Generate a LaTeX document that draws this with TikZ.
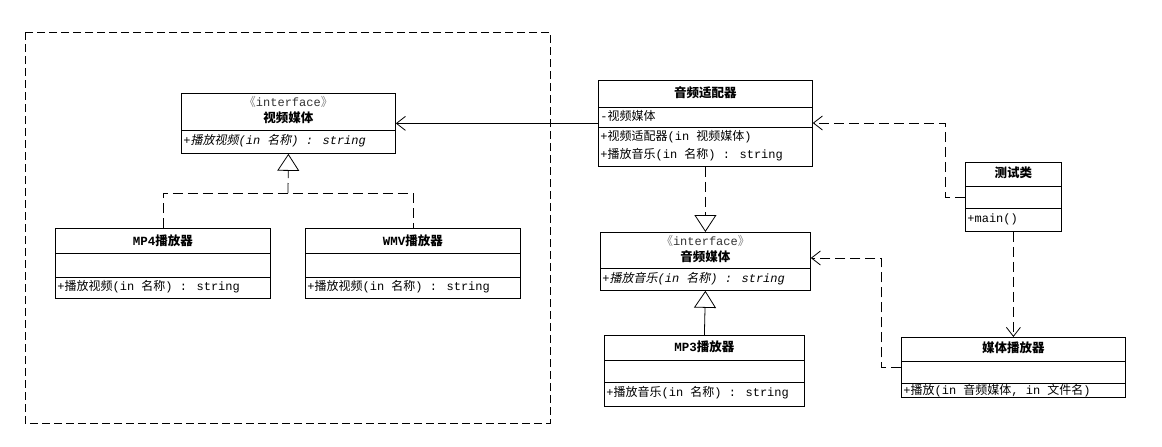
\documentclass[tikz,border=0pt]{standalone}
\usepackage{fontspec}
\setmainfont{Liberation Mono}
\newfontfamily\cjk[AutoFakeSlant=0.2]{Noto Sans CJK SC}
\newcommand\zh[1]{{\cjk #1}}
\usetikzlibrary{arrows.meta}

\begin{document}
\begin{tikzpicture}[
    x=1pt, y=-1pt, line width=0.8pt,
    font=\fontsize{12}{14}\selectfont,
    cls/.style={draw, anchor=north west, inner sep=0pt},
    ttl/.style={font=\fontsize{12.5}{14}\selectfont\bfseries, inner sep=0pt},
    stereo/.style={inner sep=0pt, text=black!80},
    ops/.style={anchor=west, inner sep=0pt},
    assoc/.style={-{Straight Barb[length=9pt,width=14pt]}},
    dep/.style={dash pattern=on 10pt off 5pt, -{Straight Barb[length=9pt,width=14pt]}},
    realize/.style={dash pattern=on 10pt off 5pt, -{Triangle[length=17pt,width=22pt,fill=white]}},
    inherit/.style={-{Triangle[length=17pt,width=22pt,fill=white]}},
    frame/.style={draw, dash pattern=on 8pt off 4pt}
]
\useasboundingbox (0,0) rectangle (1162,447);

% package boundary
\draw[frame] (25,32) rectangle (550,423);

% interface: video media
\node[cls, minimum width=214pt, minimum height=60pt] (vm) at (181,93) {};
\draw ([yshift=-37pt]vm.north west) -- ([yshift=-37pt]vm.north east);
\node[stereo] (vmst) at ([yshift=-9pt]vm.north) {\zh{\color{gray}《}interface\zh{\color{gray}》}};
\node[ttl] (vmt) at ([yshift=-25pt]vm.north) {\zh{视频媒体}};
\node[ops] (vmo) at ([xshift=2pt,yshift=-48pt]vm.north west) {\itshape +\zh{播放视频}(in \zh{名称}) : string};

% MP4 player
\node[cls, minimum width=215pt, minimum height=70pt] (mp4) at (55,228) {};
\draw ([yshift=-25pt]mp4.north west) -- ([yshift=-25pt]mp4.north east);
\draw ([yshift=-49pt]mp4.north west) -- ([yshift=-49pt]mp4.north east);
\node[ttl] (mp4t) at ([yshift=-13pt]mp4.north) {MP4\zh{播放器}};
\node[ops] (mp4o) at ([xshift=2pt,yshift=-59pt]mp4.north west) {+\zh{播放视频}(in \zh{名称}) : string};

% WMV player
\node[cls, minimum width=215pt, minimum height=70pt] (wmv) at (305,228) {};
\draw ([yshift=-25pt]wmv.north west) -- ([yshift=-25pt]wmv.north east);
\draw ([yshift=-49pt]wmv.north west) -- ([yshift=-49pt]wmv.north east);
\node[ttl] (wmvt) at ([yshift=-13pt]wmv.north) {WMV\zh{播放器}};
\node[ops] (wmvo) at ([xshift=2pt,yshift=-59pt]wmv.north west) {+\zh{播放视频}(in \zh{名称}) : string};

% audio adapter
\node[cls, minimum width=214pt, minimum height=86pt] (ad) at (598,80) {};
\draw ([yshift=-27pt]ad.north west) -- ([yshift=-27pt]ad.north east);
\draw ([yshift=-47pt]ad.north west) -- ([yshift=-47pt]ad.north east);
\node[ttl] (adt) at ([yshift=-13pt]ad.north) {\zh{音频适配器}};
\node[ops] (ada) at ([xshift=2pt,yshift=-36pt]ad.north west) {-\zh{视频媒体}};
\node[ops] (ado1) at ([xshift=2pt,yshift=-57pt]ad.north west) {+\zh{视频适配器}(in \zh{视频媒体})};
\node[ops] (ado2) at ([xshift=2pt,yshift=-75pt]ad.north west) {+\zh{播放音乐}(in \zh{名称}) : string};

% interface: audio media
\node[cls, minimum width=210pt, minimum height=58pt] (am) at (600,232) {};
\draw ([yshift=-36pt]am.north west) -- ([yshift=-36pt]am.north east);
\node[stereo] (amst) at ([yshift=-9pt]am.north) {\zh{\color{gray}《}interface\zh{\color{gray}》}};
\node[ttl] (amt) at ([yshift=-25pt]am.north) {\zh{音频媒体}};
\node[ops] (amo) at ([xshift=2pt,yshift=-47pt]am.north west) {\itshape +\zh{播放音乐}(in \zh{名称}) : string};

% MP3 player
\node[cls, minimum width=200pt, minimum height=71pt] (mp3) at (604,335) {};
\draw ([yshift=-25pt]mp3.north west) -- ([yshift=-25pt]mp3.north east);
\draw ([yshift=-47pt]mp3.north west) -- ([yshift=-47pt]mp3.north east);
\node[ttl] (mp3t) at ([yshift=-12pt]mp3.north) {MP3\zh{播放器}};
\node[ops] (mp3o) at ([xshift=2pt,yshift=-58pt]mp3.north west) {+\zh{播放音乐}(in \zh{名称}) : string};

% test class
\node[cls, minimum width=96pt, minimum height=69pt] (test) at (965,162) {};
\draw ([yshift=-24pt]test.north west) -- ([yshift=-24pt]test.north east);
\draw ([yshift=-46pt]test.north west) -- ([yshift=-46pt]test.north east);
\node[ttl] (testt) at ([yshift=-11pt]test.north) {\zh{测试类}};
\node[ops] (testo) at ([xshift=2pt,yshift=-57pt]test.north west) {+main()};

% media player
\node[cls, minimum width=224pt, minimum height=60pt] (mp) at (901,337) {};
\draw ([yshift=-24pt]mp.north west) -- ([yshift=-24pt]mp.north east);
\draw ([yshift=-46pt]mp.north west) -- ([yshift=-46pt]mp.north east);
\node[ttl] (mpt) at ([yshift=-11pt]mp.north) {\zh{媒体播放器}};
\node[ops] (mpo) at ([xshift=2pt,yshift=-54pt]mp.north west) {+\zh{播放}(in \zh{音频媒体}, in \zh{文件名})};

% connectors
\coordinate (vjoin) at (288,193);
\coordinate (tbend) at (945,123);
\coordinate (mbend) at (881,258);

\draw[dash pattern=on 10pt off 5pt] (mp4.north) |- (vjoin) -| (wmv.north);
\draw[realize] (vjoin) -- (vm.south);
\draw[assoc] (ad.west) -- (vm.east);
\draw[realize] (ad.south) -- (am.north);
\draw[inherit] (mp3.north) -- (am.south);
\draw[dep] (test.west) -| (tbend) -- (ad.east |- tbend);
\draw[dep] (test.south) -- (mp.north);
\draw[dep] (mp.west) -| (mbend) -- (am.east |- mbend);

\end{tikzpicture}
\end{document}
